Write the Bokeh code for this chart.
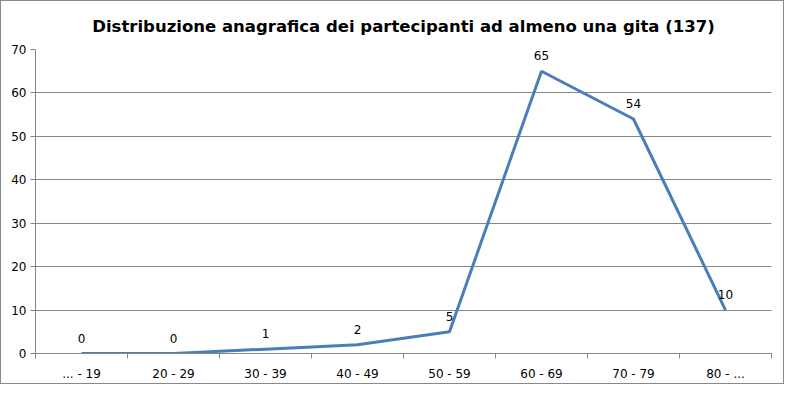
from bokeh.plotting import figure
from bokeh.models import ColumnDataSource, Range1d, FixedTicker
from bokeh.core.properties import value
from bokeh.embed import file_html
from bokeh.resources import INLINE

categories = ["... - 19", "20 - 29", "30 - 39", "40 - 49", "50 - 59", "60 - 69", "70 - 79", "80 - ..."]
counts = [0, 0, 1, 2, 5, 65, 54, 10]
title_text = "Distribuzione anagrafica dei partecipanti ad almeno una gita (137)"

xs = [i + 0.5 for i in range(len(categories))]
src = ColumnDataSource(dict(x=xs, y=counts, label=[str(c) for c in counts]))

FONT = "DejaVu Sans"
GRAY = "#868686"

p = figure(width=784, height=384, output_backend="svg", toolbar_location=None,
           x_range=Range1d(0, len(categories)), y_range=Range1d(0, 70),
           min_border_left=34, min_border_right=14, min_border_top=47, min_border_bottom=32)
p.styles = {"border": "1px solid #888888", "box-sizing": "border-box"}

p.title.text = title_text
p.title.align = "center"
p.title.text_font = FONT
p.title.text_font_size = "16.5px"
p.title.text_font_style = "bold"
p.title.text_color = "black"
p.title.standoff = 27

p.outline_line_color = None
p.xgrid.grid_line_color = None
p.ygrid.grid_line_color = GRAY
p.ygrid.grid_line_width = 1

p.yaxis.ticker = FixedTicker(ticks=list(range(0, 71, 10)))
p.yaxis.axis_line_color = GRAY
p.yaxis.major_tick_line_color = GRAY
p.yaxis.major_tick_out = 5
p.yaxis.major_tick_in = 0
p.yaxis.minor_tick_line_color = None
p.yaxis.major_label_text_font = FONT
p.yaxis.major_label_text_font_size = "12px"
p.yaxis.major_label_text_color = "black"
p.yaxis.major_label_standoff = 4

p.xaxis.ticker = FixedTicker(ticks=xs, minor_ticks=list(range(len(categories) + 1)))
p.xaxis.major_label_overrides = {x: c for x, c in zip(xs, categories)}
p.xaxis.axis_line_color = GRAY
p.xaxis.major_tick_line_color = None
p.xaxis.major_tick_out = 0
p.xaxis.major_tick_in = 0
p.xaxis.minor_tick_line_color = GRAY
p.xaxis.minor_tick_out = 5
p.xaxis.minor_tick_in = 0
p.xaxis.major_label_text_font = FONT
p.xaxis.major_label_text_font_size = "12px"
p.xaxis.major_label_text_color = "black"
p.xaxis.major_label_standoff = 8

p.line("x", "y", source=src, line_color="#4A7EBB", line_width=3)
p.text("x", "y", text="label", source=src, text_font=value(FONT), text_font_size="12px",
       text_align="center", text_baseline="bottom", y_offset=-11, text_color="black")

open("out.html", "w").write(file_html(p, INLINE))
